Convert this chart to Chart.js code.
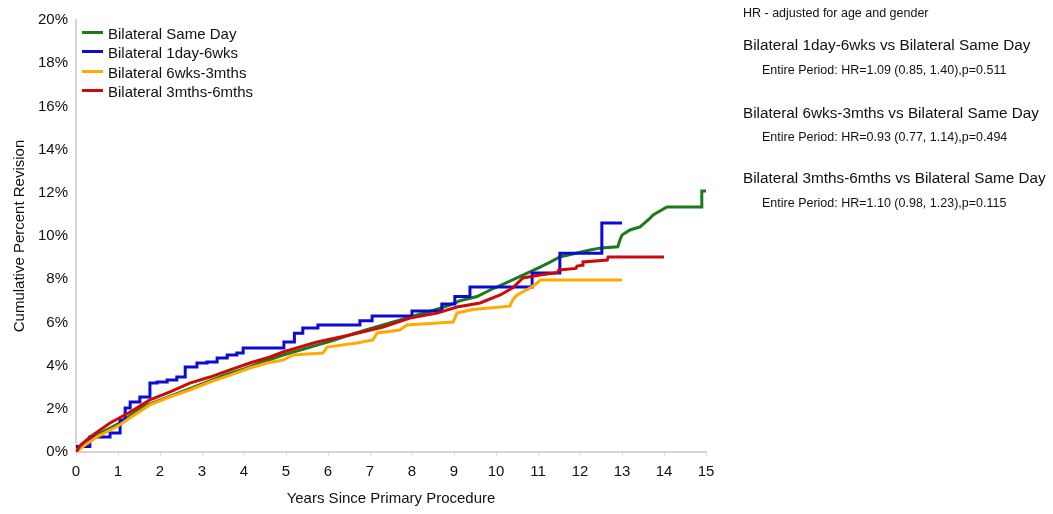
<!DOCTYPE html>
<html>
<head>
<meta charset="utf-8">
<script src="https://cdn.jsdelivr.net/npm/chart.js@4/dist/chart.umd.min.js"></script>
<style>
  html, body { margin:0; padding:0; background:#fff; }
  body { width:1053px; height:514px; position:relative; overflow:hidden; font-family:"Liberation Sans", Arial, Helvetica, sans-serif; color:#111; }
  #wrap { position:absolute; left:0; top:0; width:1053px; height:514px; }
  .leg { position:absolute; left:82px; font-size:15px; line-height:18px; }
  .leg .sw { display:inline-block; width:21px; height:3px; vertical-align:middle; margin-right:5px; position:relative; top:-3px; }
  .side { position:absolute; left:743px; white-space:nowrap; }
  .note { font-size:12.5px; }
  .head { font-size:15.3px; }
  .sub { font-size:12.5px; left:762px; }
</style>
</head>
<body>
<div id="wrap"><canvas id="c" width="1053" height="514"></canvas></div>
<div id="legend"></div>
<div class="side note" style="top:6px">HR - adjusted for age and gender</div>
<div class="side head" style="top:36px">Bilateral 1day-6wks vs Bilateral Same Day</div>
<div class="side sub" style="top:63px">Entire Period: HR=1.09 (0.85, 1.40),p=0.511</div>
<div class="side head" style="top:104px">Bilateral 6wks-3mths vs Bilateral Same Day</div>
<div class="side sub" style="top:130px">Entire Period: HR=0.93 (0.77, 1.14),p=0.494</div>
<div class="side head" style="top:169px">Bilateral 3mths-6mths vs Bilateral Same Day</div>
<div class="side sub" style="top:196px">Entire Period: HR=1.10 (0.98, 1.23),p=0.115</div>
<script>
// ---- data ----
const seriesNames = ["Bilateral Same Day", "Bilateral 1day-6wks", "Bilateral 6wks-3mths", "Bilateral 3mths-6mths"];

const sameDayYears = [0,0.1,0.3,0.5,0.8,1.0,1.3,1.6,2.0,2.4,2.8,3.2,3.6,4.0,4.5,4.93,5.4,5.74,6.1,6.52,6.9,7.31,7.7,8.12,8.5,8.9,9.14,9.55,9.86,10.2,10.64,11.05,11.3,11.52,11.9,12.24,12.5,12.9,12.95,13.0,13.19,13.43,13.67,13.74,14.07,14.9,14.9,15.0];
const sameDayPct   = [0,0.2,0.5,0.8,1.1,1.3,1.7,2.1,2.4,2.7,3.0,3.3,3.6,3.85,4.2,4.49,4.75,4.95,5.15,5.42,5.65,5.88,6.1,6.34,6.55,6.8,7.0,7.2,7.5,7.8,8.19,8.56,8.8,9.03,9.2,9.35,9.45,9.5,9.81,10.05,10.28,10.42,10.83,10.97,11.34,11.34,12.08,12.08];

const day6wkYears = [0,0.33,0.81,1.05,1.17,1.29,1.52,1.76,1.93,2.17,2.40,2.6,2.88,3.12,3.36,3.6,3.83,3.98,4.95,5.2,5.4,5.76,6.76,7.05,8.0,8.71,9.02,9.38,10.86,11.52,12.52,13.0];
const day6wkPct   = [0.25,0.69,0.88,1.48,2.04,2.31,2.55,3.19,3.24,3.33,3.47,3.94,4.12,4.17,4.35,4.49,4.58,4.81,5.09,5.5,5.74,5.88,6.08,6.3,6.53,6.85,7.2,7.64,8.29,9.2,10.6,10.6];

const wk3mthYears = [0,0.2,0.5,1.0,1.3,1.76,2.24,2.71,3.19,3.67,4.14,4.55,4.93,5.17,5.88,5.98,6.69,7.07,7.17,7.71,7.88,8.98,9.07,9.45,10.33,10.4,10.5,10.81,10.98,11.05,13.0];
const wk3mthPct   = [0,0.3,0.7,1.2,1.6,2.18,2.55,2.87,3.24,3.56,3.89,4.12,4.26,4.49,4.58,4.86,5.05,5.19,5.51,5.65,5.88,6.02,6.43,6.6,6.75,7.04,7.27,7.59,7.82,7.96,7.96];

const mth6mthYears = [0,0.1,0.33,0.81,1.29,1.76,2.24,2.71,3.19,3.67,4.14,4.62,4.93,5.74,6.52,7.31,7.95,8.6,9.07,9.62,10.1,10.4,10.64,11.05,11.45,11.5,11.9,11.93,12.05,12.07,12.65,12.67,14.0];
const mth6mthPct   = [0,0.3,0.69,1.34,1.85,2.41,2.78,3.19,3.47,3.8,4.12,4.4,4.63,5.09,5.42,5.79,6.2,6.43,6.71,6.9,7.27,7.6,8.06,8.19,8.3,8.43,8.5,8.61,8.65,8.8,8.89,9.03,9.03];

const yTickValues = [0,2,4,6,8,10,12,14,16,18,20];
const xTickValues = [0,1,2,3,4,5,6,7,8,9,10,11,12,13,14,15];

const colors = ["#1b7a1b", "#0b0bd6", "#ffaa00", "#cc0a0a"];

function pts(xs, ys) { return xs.map((x, i) => ({x: x, y: ys[i]})); }

// HTML legend
const legTops = [25, 44, 64, 83];
const legend = document.getElementById('legend');
seriesNames.forEach((n, i) => {
  const d = document.createElement('div');
  d.className = 'leg';
  d.style.top = legTops[i] + 'px';
  d.innerHTML = '<span class="sw" style="background:' + colors[i] + '"></span>' + n;
  legend.appendChild(d);
});

const FONT = "'Liberation Sans', Arial, Helvetica, sans-serif";

new Chart(document.getElementById('c'), {
  type: 'line',
  data: {
    datasets: [
      { label: seriesNames[0], data: pts(sameDayYears, sameDayPct), borderColor: colors[0], stepped: false, order: 4 },
      { label: seriesNames[1], data: pts(day6wkYears, day6wkPct), borderColor: colors[1], stepped: 'before', order: 3 },
      { label: seriesNames[2], data: pts(wk3mthYears, wk3mthPct), borderColor: colors[2], stepped: false, order: 2 },
      { label: seriesNames[3], data: pts(mth6mthYears, mth6mthPct), borderColor: colors[3], stepped: false, order: 1 }
    ].map(d => Object.assign(d, { borderWidth: 3, pointRadius: 0, fill: false, tension: 0, borderJoinStyle: 'miter' }))
  },
  options: {
    responsive: false,
    animation: false,
    devicePixelRatio: 1,
    layout: { padding: { left: 0, top: 20, right: 347, bottom: 0 } },
    plugins: { legend: { display: false }, tooltip: { enabled: false } },
    scales: {
      x: {
        type: 'linear', min: 0, max: 15,
        afterBuildTicks: s => { s.ticks = xTickValues.map(v => ({value: v})); },
        afterFit: s => { s.height = 62; },
        border: { display: true, color: '#d4d4d4', width: 2 },
        grid: { display: true, drawOnChartArea: false, drawTicks: true, tickLength: 4, color: '#dddddd' },
        ticks: { color: '#111', font: { family: FONT, size: 15 }, padding: 7, maxRotation: 0 },
        title: { display: true, text: 'Years Since Primary Procedure', color: '#111', font: { family: FONT, size: 15 }, padding: { top: 0, bottom: 6 } }
      },
      y: {
        type: 'linear', min: 0, max: 20,
        afterBuildTicks: s => { s.ticks = yTickValues.map(v => ({value: v})); },
        afterFit: s => { s.width = 76; },
        border: { display: true, color: '#d4d4d4', width: 2 },
        grid: { display: false },
        ticks: { color: '#111', font: { family: FONT, size: 15 }, padding: 0, callback: v => v + '%' },
        title: { display: true, text: 'Cumulative Percent Revision', color: '#111', font: { family: FONT, size: 15 }, padding: { top: 11, bottom: 0 } }
      }
    }
  }
});
</script>
</body>
</html>
